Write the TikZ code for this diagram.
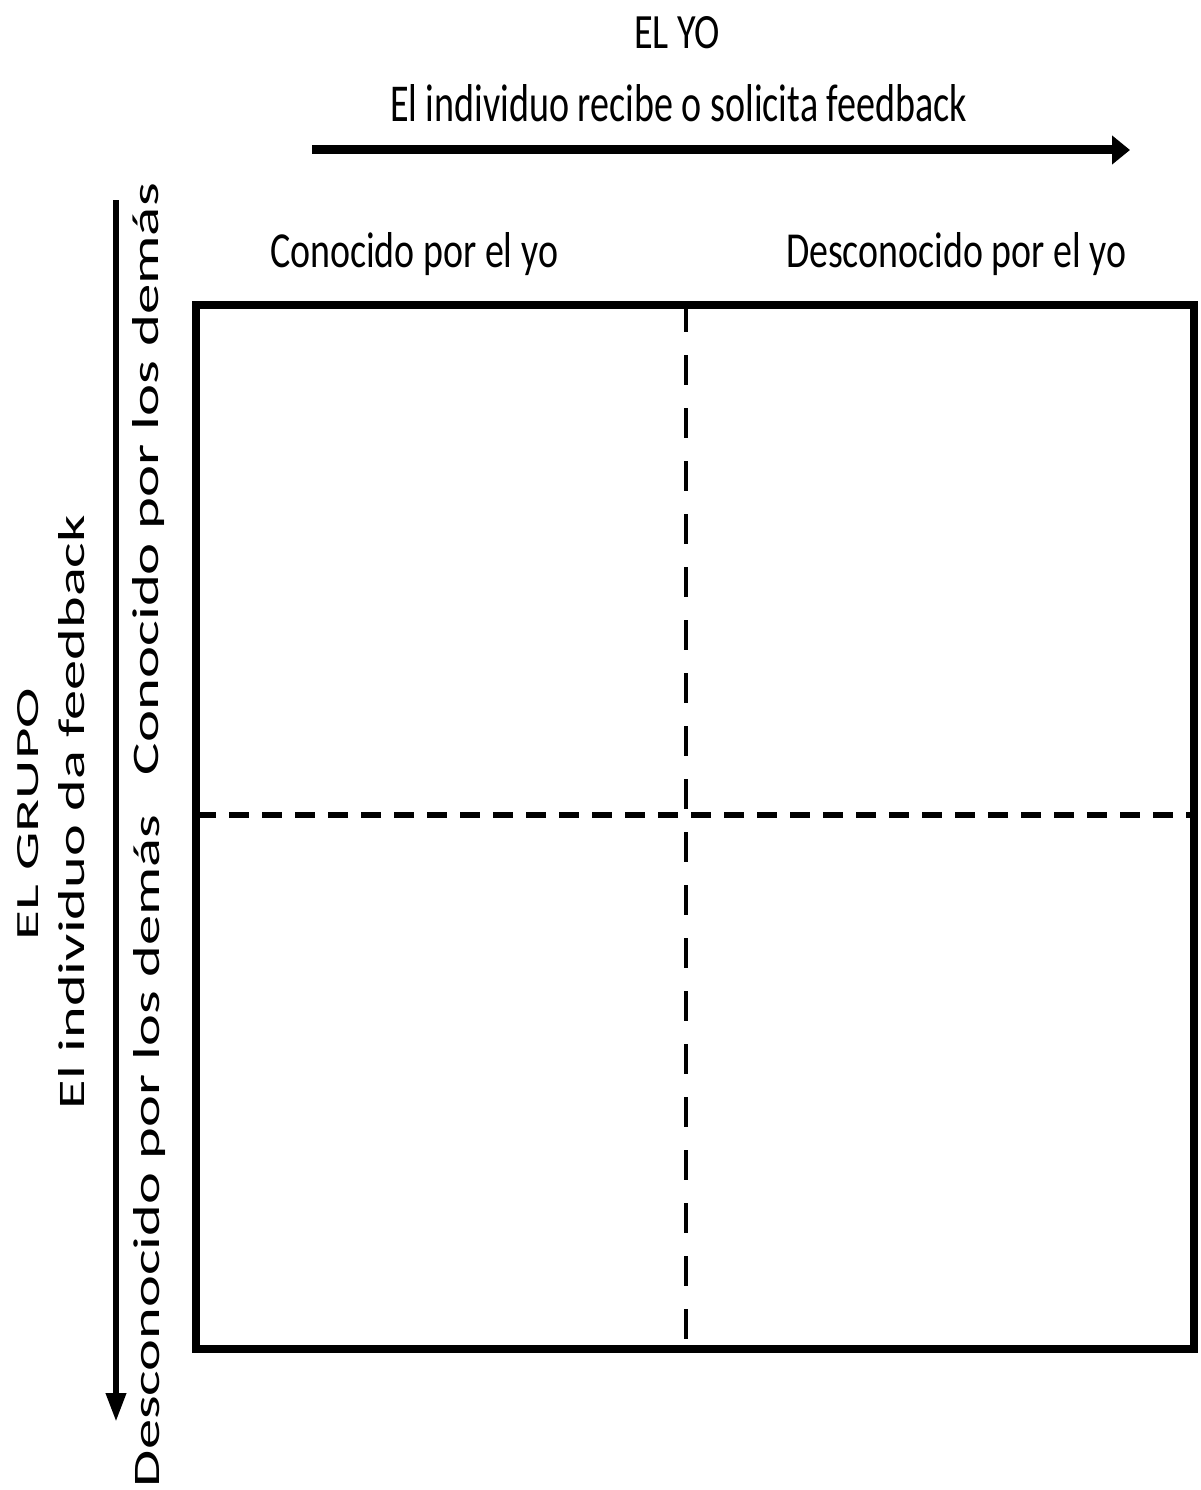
\documentclass[tikz,border=0pt]{standalone}
\usepackage{fontspec}
\setmainfont{Carlito}
\usepackage{graphicx}
\usetikzlibrary{arrows.meta}
\tikzset{
  lbl/.style={inner sep=0pt, outer sep=0pt, anchor=base west},
  vlbl/.style={inner sep=0pt, outer sep=0pt, anchor=base west, rotate=90},
  frame/.style={line width=7.5pt, line join=miter},
  vdash/.style={line width=4.5pt, dash pattern=on 30pt off 23pt},
  hdash/.style={line width=6pt, dash pattern=on 20pt off 13pt},
  toparrow/.style={line width=9pt, -{Triangle[length=18pt,width=28pt]}},
  leftarrow/.style={line width=6.5pt, -{Triangle[length=29pt,width=19pt]}}
}
\begin{document}
\begin{tikzpicture}[x=1pt,y=-1pt]
\useasboundingbox[fill=white] (0,0) rectangle (1200,1490);
% top titles
\node[lbl] (elyo) at (634,49) {\resizebox{86pt}{32pt}{EL YO}};
\node[lbl] (sub) at (390,122) {\resizebox{577pt}{37pt}{El individuo recibe o solicita feedback}};
\coordinate (ta) at (312,150);
\coordinate (tb) at (1130,150);
\draw[toparrow] (ta) -- (tb);
% column headers
\node[lbl] (c1) at (270,267) {\resizebox{288pt}{35pt}{Conocido por el yo}};
\node[lbl] (c2) at (786,267) {\resizebox{340pt}{35pt}{Desconocido por el yo}};
% box
\coordinate (v1) at (686,302);
\coordinate (v2) at (686,1349);
\draw[vdash] (v1) -- (v2);
\coordinate (h1) at (196,815);
\coordinate (h2) at (1194,815);
\draw[hdash] (h1) -- (h2);
\coordinate (b1) at (196,305);
\coordinate (b2) at (1194,1349);
\draw[frame] (b1) rectangle (b2);
% left side
\coordinate (la) at (116,200);
\coordinate (lb) at (116,1422);
\draw[leftarrow] (la) -- (lb);
\node[vlbl] (grupo) at (38,940) {\resizebox{252pt}{21pt}{EL GRUPO}};
\node[vlbl] (da) at (84,1109) {\resizebox{594pt}{26pt}{El individuo da feedback}};
\node[vlbl] (r1) at (158,775) {\resizebox{592pt}{26pt}{Conocido por los demás}};
\node[vlbl] (r2) at (159,1487) {\resizebox{672pt}{26pt}{Desconocido por los demás}};
\end{tikzpicture}
\end{document}
